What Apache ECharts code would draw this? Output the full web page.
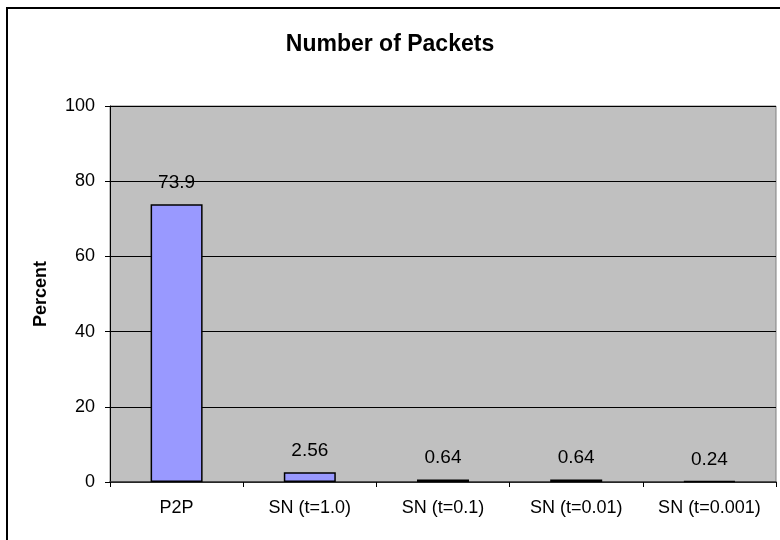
<!DOCTYPE html>
<html>
<head>
<meta charset="utf-8">
<title>Number of Packets</title>
<script src="https://cdn.jsdelivr.net/npm/echarts@6/dist/echarts.min.js"></script>
<style>
  html, body { margin: 0; padding: 0; background: #ffffff; }
  #chart { width: 780px; height: 540px; }
</style>
</head>
<body>
<div id="chart"></div>
<script>
// Share of packets per scheme
const categories = ['P2P', 'SN (t=1.0)', 'SN (t=0.1)', 'SN (t=0.01)', 'SN (t=0.001)'];
const percentValues = [73.9, 2.56, 0.64, 0.64, 0.24];
const yTicks = [0, 20, 40, 60, 80, 100];

const FONT = '"Liberation Sans", Arial, sans-serif';

const chart = echarts.init(document.getElementById('chart'), null, { renderer: 'canvas' });

chart.setOption({
  backgroundColor: '#ffffff',
  animation: false,
  title: {
    text: 'Number of Packets',
    left: 'center',
    top: 28,
    textStyle: { fontFamily: FONT, fontSize: 23, fontWeight: 'bold', color: '#000' }
  },
  graphic: [{
    type: 'rect',
    shape: { x: 7, y: 8, width: 800, height: 600 },
    style: { fill: 'none', stroke: '#000', lineWidth: 2 },
    silent: true,
    z: 10
  }],
  grid: {
    left: 110, right: 4, top: 106, bottom: 58,
    show: true,
    backgroundColor: '#C0C0C0',
    borderColor: '#808080',
    borderWidth: 1
  },
  xAxis: {
    type: 'category',
    data: categories,
    axisLine: { show: true, lineStyle: { color: '#333', width: 1.5 } },
    axisTick: { show: true, alignWithLabel: false, length: 5, lineStyle: { color: '#000' } },
    axisLabel: { fontFamily: FONT, fontSize: 18, color: '#000', margin: 17, interval: 0 }
  },
  yAxis: {
    type: 'value',
    min: yTicks[0],
    max: yTicks[yTicks.length - 1],
    interval: yTicks[1] - yTicks[0],
    name: 'Percent',
    nameLocation: 'middle',
    nameGap: 60,
    nameTextStyle: { fontFamily: FONT, fontSize: 18, fontWeight: 'bold', color: '#000' },
    axisLine: { show: true, lineStyle: { color: '#000', width: 1 } },
    axisTick: { show: true, length: 5, lineStyle: { color: '#000' } },
    axisLabel: { fontFamily: FONT, fontSize: 18, color: '#000', margin: 15 },
    splitLine: { show: true, lineStyle: { color: '#000', width: 1 } }
  },
  series: [{
    type: 'bar',
    data: percentValues,
    barWidth: 52,
    itemStyle: { color: '#9999FF', borderColor: '#000', borderWidth: 1.5 },
    label: {
      show: true,
      position: 'top',
      distance: 12,
      fontFamily: FONT,
      fontSize: 19,
      color: '#000',
      formatter: p => String(p.value)
    }
  }]
});
</script>
</body>
</html>
